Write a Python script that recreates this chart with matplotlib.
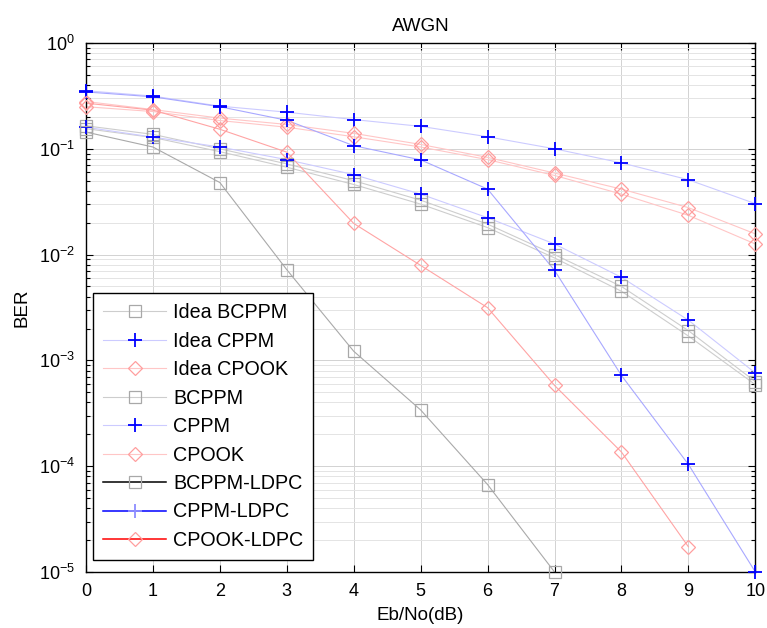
import numpy as np
import matplotlib
matplotlib.use("Agg")
import matplotlib.pyplot as plt
from matplotlib.lines import Line2D
from matplotlib.ticker import LogLocator

plt.rcParams['font.family'] = ['Liberation Sans', 'DejaVu Sans']
plt.rcParams['mathtext.fontset'] = 'custom'
plt.rcParams['mathtext.rm'] = 'Liberation Sans'
plt.rcParams['mathtext.it'] = 'Liberation Sans'
plt.rcParams['mathtext.default'] = 'regular'

ebno = [0, 1, 2, 3, 4, 5, 6, 7, 8, 9, 10]

idea_bcppm = [0.165, 0.137, 0.100, 0.072, 0.050, 0.0327, 0.0194, 0.0100, 0.0050, 0.00191, 0.00063]
idea_cppm = [0.354, 0.315, 0.253, 0.222, 0.189, 0.163, 0.130, 0.100, 0.0736, 0.051, 0.0303]
idea_cpook = [0.280, 0.235, 0.195, 0.170, 0.140, 0.110, 0.083, 0.059, 0.0416, 0.0278, 0.0157]
bcppm = [0.155, 0.128, 0.094, 0.067, 0.046, 0.0300, 0.0180, 0.0093, 0.0045, 0.0017, 0.00059]
cppm = [0.160, 0.129, 0.104, 0.079, 0.057, 0.0373, 0.0223, 0.0126, 0.0061, 0.0024, 0.00076]
cpook = [0.250, 0.225, 0.185, 0.160, 0.130, 0.104, 0.079, 0.056, 0.0373, 0.0235, 0.0126]
bcppm_ldpc = [0.144, 0.104, 0.048, 0.0072, 0.00122, 0.00034, 0.000067, 0.00001, np.nan, np.nan, np.nan]
cppm_ldpc = [0.345, 0.310, 0.250, 0.186, 0.107, 0.0786, 0.0416, 0.0071, 0.00072, 0.000104, 0.00001]
cpook_ldpc = [0.270, 0.232, 0.153, 0.093, 0.0197, 0.0079, 0.00315, 0.00058, 0.000136, 0.0000173, np.nan]

labels = ['Idea BCPPM', 'Idea CPPM', 'Idea CPOOK', 'BCPPM', 'CPPM', 'CPOOK',
          'BCPPM-LDPC', 'CPPM-LDPC', 'CPOOK-LDPC']

fig = plt.figure(figsize=(7.67, 6.28), dpi=100)
ax = fig.add_axes([0.1121, 0.0892, 0.8727, 0.8423])

GRAY_L, BLUE_L, RED_L = '#cdcdcd', '#cccbff', '#ffc6c6'
GRAY_D, BLUE_D, RED_D = '#a9a9a9', '#a8a8ff', '#ffa4a4'
SQ_C, PL_C, DM_C = '#a8a8a8', '#0000ff', '#ff9e9e'

series = [
    (idea_bcppm, GRAY_L, 's', SQ_C),
    (idea_cppm, BLUE_L, '+', PL_C),
    (idea_cpook, RED_L, 'D', DM_C),
    (bcppm, GRAY_L, 's', SQ_C),
    (cppm, BLUE_L, '+', PL_C),
    (cpook, RED_L, 'D', DM_C),
    (bcppm_ldpc, GRAY_D, 's', SQ_C),
    (cppm_ldpc, BLUE_D, '+', PL_C),
    (cpook_ldpc, RED_D, 'D', DM_C),
]

msize = {'s': 8, '+': 9.5, 'D': 7.2}
mew = {'s': 0.9, '+': 1.3, 'D': 0.9}

for vals, lc, mk, mc in series:
    ax.plot(ebno, vals, color=lc, lw=0.8, zorder=2)
    ax.plot(ebno, vals, linestyle='none', marker=mk, markersize=msize[mk],
            markerfacecolor='none', markeredgecolor=mc, markeredgewidth=mew[mk],
            zorder=3, clip_on=False)

ax.set_yscale('log')
ax.set_xlim(0, 10)
ax.set_ylim(1e-5, 1)
ax.set_xticks(range(0, 11))
ax.yaxis.set_major_locator(LogLocator(base=10, numticks=10))
ax.yaxis.set_minor_locator(LogLocator(base=10, subs=np.arange(2, 10), numticks=20))

ax.grid(True, which='major', color='#d2d2d2', lw=0.7)
ax.grid(True, which='minor', axis='y', color='#e4e4e4', lw=0.7)
ax.set_axisbelow(True)

ax.tick_params(which='both', direction='in', top=True, right=True, labelsize=13, width=0.8)
ax.tick_params(which='major', length=5, pad=8)
ax.tick_params(which='minor', length=3)
for s in ax.spines.values():
    s.set_linewidth(1.0)

ax.set_title('AWGN', fontsize=13.5, pad=9)
ax.set_xlabel('Eb/No(dB)', fontsize=13.5, labelpad=5)
ax.set_ylabel('BER', fontsize=13.5, labelpad=6)

leg_lines = [GRAY_L, BLUE_L, RED_L, GRAY_L, BLUE_L, RED_L, 'black', 'blue', 'red']
leg_marks = ['s', '+', 'D', 's', '+', 'D', 's', '+', 'D']
leg_mcols = [SQ_C, PL_C, DM_C, SQ_C, PL_C, DM_C, SQ_C, '#8c8cff', DM_C]
handles = [Line2D([0], [0], color=lc, lw=1.1 if i >= 6 else 0.8, marker=mk,
                  markersize=msize[mk], markerfacecolor='none',
                  markeredgecolor=mc, markeredgewidth=mew[mk])
           for i, (lc, mk, mc) in enumerate(zip(leg_lines, leg_marks, leg_mcols))]
leg = ax.legend(handles, labels, loc='lower left', bbox_to_anchor=(0.011, 0.023),
                borderaxespad=0, fontsize=14.2, handlelength=3.2, handletextpad=0.35,
                labelspacing=0.48, fancybox=False, framealpha=1, edgecolor='black',
                borderpad=0.5)
leg.get_frame().set_linewidth(1.0)
leg.set_zorder(5)

fig.savefig('out.png', dpi=100)
